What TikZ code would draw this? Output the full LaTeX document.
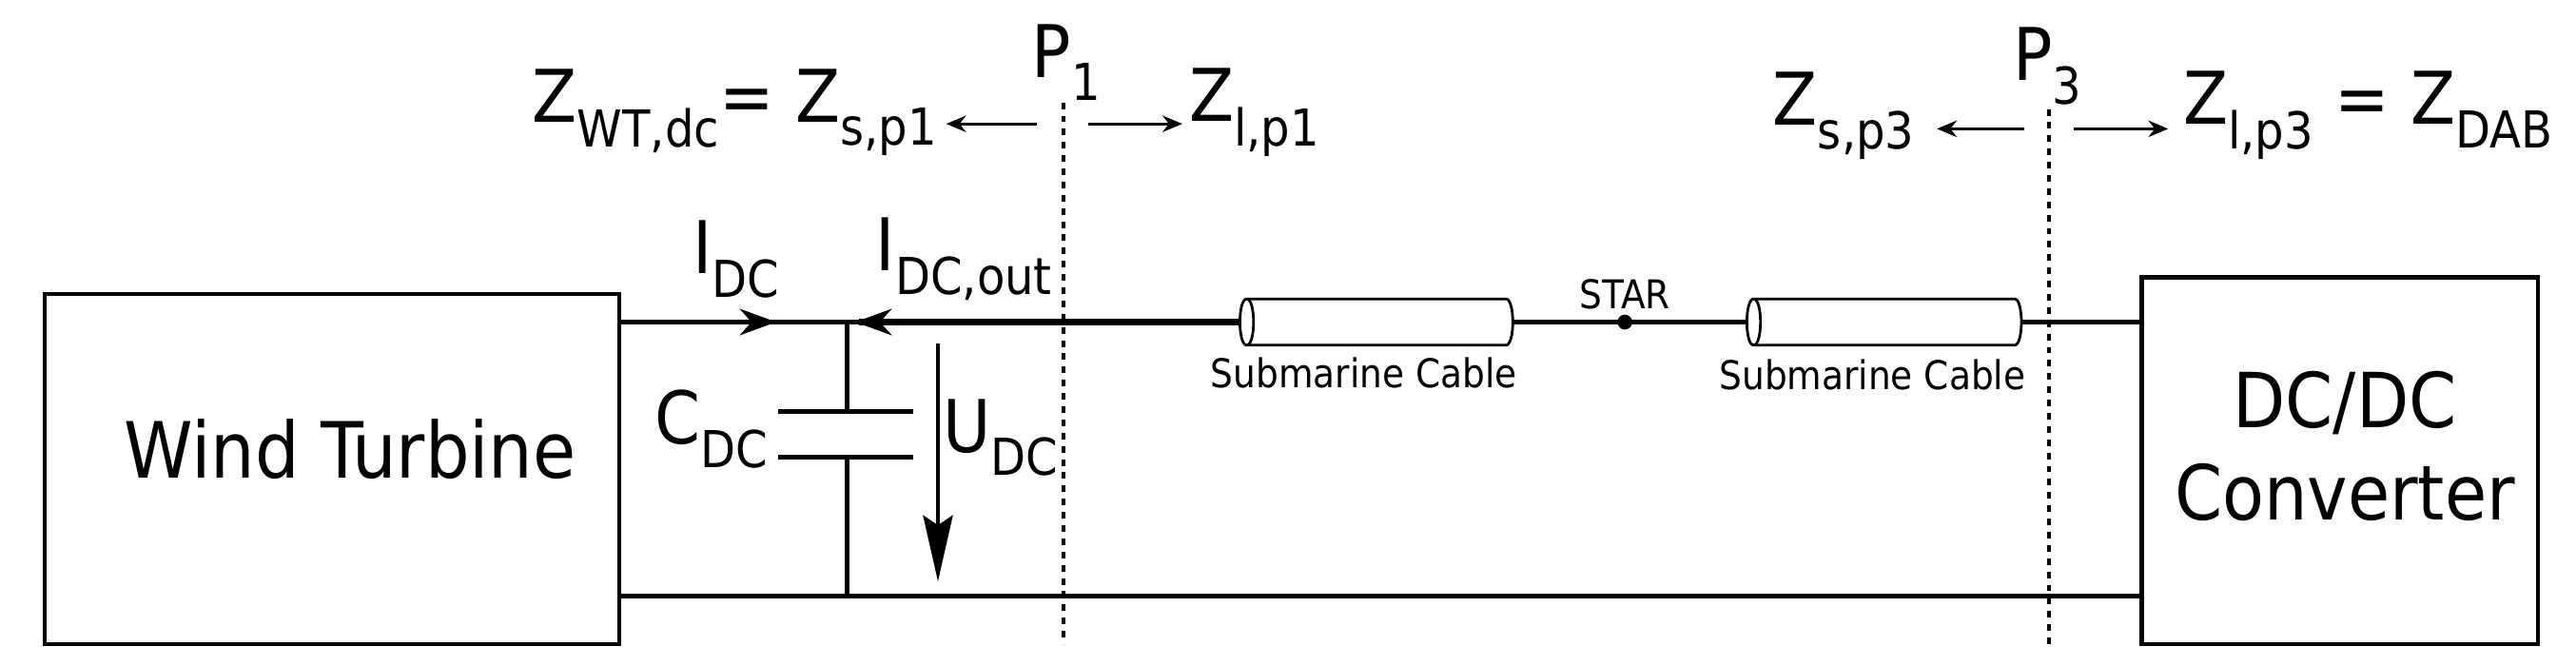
\documentclass[tikz,border=0pt]{standalone}
\usepackage{fontspec}
\setmainfont{DejaVu Sans Condensed}
\usetikzlibrary{arrows.meta}
\begin{document}
\begin{tikzpicture}[x=1pt,y=-1pt,
  wire/.style={line width=2.8pt},
  big/.style={font=\fontsize{44}{48}\selectfont,inner sep=0pt},
  mid/.style={font=\fontsize{44}{48}\selectfont,inner sep=0pt},
  small/.style={font=\fontsize{24}{26}\selectfont,inner sep=0pt},
  dots/.style={line width=2.4pt,dash pattern=on 4pt off 4pt},
  zarr/.style={line width=1.8pt,-{Stealth[length=12pt,width=10pt]}},
  cyl/.style={line width=1.6pt,fill=white}]
\useasboundingbox (0,0) rectangle (1560,403);
% boxes
\draw[line width=2.5pt] (27,178) rectangle (375,390);
\node[mid,font=\fontsize{47}{50}\selectfont] (wt) at (212,272) {Wind Turbine};
\draw[line width=2.5pt] (1297,168) rectangle (1537,390);
\node[mid,align=center,font=\fontsize{46}{56}\selectfont] (dc) at (1420,270) {DC/DC\\Converter};
\coordinate (wtt) at (375,195); \coordinate (wtb) at (375,361);
\coordinate (dct) at (1297,195); \coordinate (dcb) at (1297,361);
% wires
\draw[wire] (wtt) -- (dct);
\draw[line width=4pt] (520,195) -- (760,195);
\draw[wire] (wtb) -- (dcb);
\draw[wire,-{Stealth[length=22pt,width=16pt]}] (430,195) -- (470,195);
\draw[wire,-{Stealth[length=22pt,width=16pt]}] (560,195) -- (518,195);
% capacitor
\coordinate (c1) at (513,195); \coordinate (c2) at (513,361);
\draw[wire] (c1) -- (513,249) (513,277) -- (c2);
\draw[wire] (471,249) -- (553,249) (471,277) -- (553,277);
\node[mid] (cdc) at (431,260) {C\textsubscript{DC}};
\draw[line width=2pt,-{Stealth[length=40pt,width=18pt,inset=6pt]}] (568,208) -- (568,352);
\node[mid] (udc) at (606,265) {U\textsubscript{DC}};
\node[mid] (idc) at (446,157) {I\textsubscript{DC}};
\node[mid] (idco) at (584,157) {I\textsubscript{DC,out}};
% cables
\foreach \a/\b in {755/912,1062/1220}{
  \draw[cyl] (\a,181) -- (\b,181) .. controls (\b+5.5,181) and (\b+5.5,209) .. (\b,209) -- (\a,209)
     .. controls (\a-5.5,209) and (\a-5.5,181) .. (\a,181);
  \draw[cyl] (\a,181) .. controls (\a+5.5,181) and (\a+5.5,209) .. (\a,209);
}
\node[small] (cl1) at (826,226) {Submarine Cable};
\node[small] (cl2) at (1134,227) {Submarine Cable};
\fill (984,195) circle (4.5);
\node[small] (star) at (984,178) {STAR};
% P lines
\draw[dots] (644,62) -- (644,390);
\draw[dots] (1241,66) -- (1241,390);
\node[big] (p1) at (646,38) {P\textsubscript{1}};
\node[big] (p3) at (1240,40) {P\textsubscript{3}};
\draw[zarr] (628,75) -- (573,75);
\draw[zarr] (659,75) -- (716,75);
\draw[zarr] (1226,78) -- (1173,78);
\draw[zarr] (1256,78) -- (1313,78);
\node[big,anchor=east] (zl) at (568,68) {Z\textsubscript{WT,dc}= Z\textsubscript{s,p1}};
\node[big,anchor=west] (zr) at (720,68) {Z\textsubscript{l,p1}};
\node[big,anchor=east] (zl3) at (1160,70) {Z\textsubscript{s,p3}};
\node[big,anchor=west] (zr3) at (1322,70) {Z\textsubscript{l,p3} = Z\textsubscript{DAB}};
\end{tikzpicture}
\end{document}
